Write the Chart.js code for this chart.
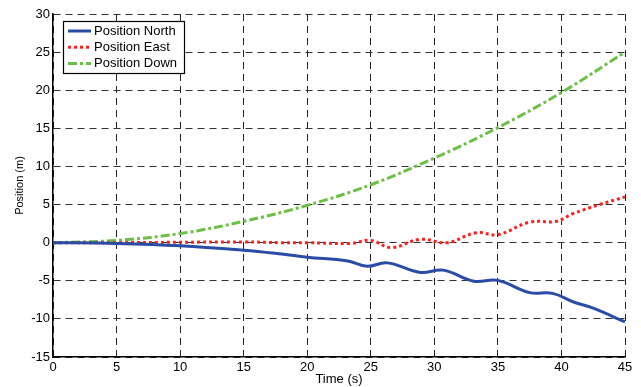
<!DOCTYPE html>
<html>
<head>
<meta charset="utf-8">
<script src="https://cdn.jsdelivr.net/npm/chart.js"></script>
<style>
  html, body { margin: 0; padding: 0; background: #fff; }
  #wrap { width: 641px; height: 387px; position: relative; }
</style>
</head>
<body>
<div id="wrap"><canvas id="chart"></canvas></div>
<script>
// values (time in s, position in m)
const northTime = [0, 5, 10, 15, 18, 20, 23.2, 24.7, 26.3, 28.9, 30.7, 33.1, 35, 37.5, 39.3, 40.9, 42.5, 45];
const northPos  = [0, -0.1, -0.4, -1.0, -1.5, -1.9, -2.4, -3.1, -2.65, -3.9, -3.6, -5.05, -4.95, -6.55, -6.65, -7.75, -8.6, -10.4];

const eastTime = [0, 5, 10, 15, 18, 20, 23.4, 25, 26.6, 28.9, 31, 33.3, 35, 37.5, 39.6, 40.9, 43, 45];
const eastPos  = [0, 0, 0.05, 0.1, 0, 0, -0.1, 0.3, -0.65, 0.45, 0, 1.3, 1.05, 2.7, 2.8, 3.8, 5.0, 6.0];

const downTime = [0, 5, 10, 15, 20, 25, 30, 35, 40, 45];
const downPos  = [0, 0.3, 1.2, 2.8, 4.9, 7.6, 11.1, 15.1, 19.7, 25];

const seriesLabels = ['Position North', 'Position East', 'Position Down'];
const xTicks = [0, 5, 10, 15, 20, 25, 30, 35, 40, 45];
const yTicks = [-15, -10, -5, 0, 5, 10, 15, 20, 25, 30];

const FONT = "'Liberation Sans', Arial, sans-serif";

function pts(t, v) { return t.map((x, i) => ({ x: x, y: v[i] })); }

// legend drawn inside the plot, top-left, MATLAB style
const boxLegend = {
  id: 'boxLegend',
  afterDatasetsDraw(chart) {
    const ctx = chart.ctx;
    const x0 = 63, y0 = 21, w = 121, h = 52;
    ctx.save();
    ctx.fillStyle = '#fff';
    ctx.fillRect(x0, y0, w, h);
    ctx.lineWidth = 1.2;
    ctx.strokeStyle = '#000';
    ctx.setLineDash([]);
    ctx.strokeRect(x0 + 0.5, y0 + 0.5, w, h);
    ctx.font = '13px ' + FONT;
    ctx.textBaseline = 'middle';
    chart.data.datasets.forEach((ds, i) => {
      const cy = y0 + 10 + i * 16.2;
      ctx.beginPath();
      ctx.strokeStyle = ds.borderColor;
      ctx.lineWidth = ds.borderWidth;
      ctx.setLineDash(ds.borderDash || []);
      ctx.moveTo(68, cy);
      ctx.lineTo(91, cy);
      ctx.stroke();
      ctx.fillStyle = '#000';
      ctx.fillText(ds.label, 94, cy + 0.5);
    });
    ctx.restore();
  }
};

new Chart(document.getElementById('chart'), {
  type: 'line',
  data: {
    datasets: [
      {
        label: seriesLabels[0],
        data: pts(northTime, northPos),
        borderColor: '#2b4ca6',
        borderWidth: 3,
        tension: 0.4
      },
      {
        label: seriesLabels[1],
        data: pts(eastTime, eastPos),
        borderColor: '#ff1f1f',
        borderWidth: 3,
        borderDash: [3, 3],
        tension: 0.4
      },
      {
        label: seriesLabels[2],
        data: pts(downTime, downPos),
        borderColor: '#6cbf47',
        borderWidth: 3,
        borderDash: [9, 3, 3, 3],
        tension: 0.4
      }
    ]
  },
  options: {
    responsive: true,
    maintainAspectRatio: false,
    animation: false,
    elements: { point: { radius: 0 } },
    layout: { padding: { left: 0, top: 14, right: 16, bottom: 0 } },
    plugins: {
      legend: { display: false },
      tooltip: { enabled: false }
    },
    scales: {
      x: {
        type: 'linear',
        min: 0,
        max: 45,
        afterBuildTicks: s => { s.ticks = xTicks.map(v => ({ value: v })); },
        afterFit: s => { s.height = 30; },
        grid: { color: '#222', lineWidth: 1, drawTicks: false },
        border: { display: true, color: '#000', width: 1.5, dash: [7, 5] },
        ticks: { color: '#000', font: { family: FONT, size: 13 }, padding: 3, maxRotation: 0 },
        title: { display: true, text: 'Time (s)', color: '#000', font: { family: FONT, size: 13 }, padding: { top: -4, bottom: 0 } }
      },
      y: {
        min: -15,
        max: 30,
        afterBuildTicks: s => { s.ticks = yTicks.map(v => ({ value: v })); },
        afterFit: s => { s.width = 53; },
        grid: { color: '#333', lineWidth: 1, drawTicks: false },
        border: { display: true, color: '#000', width: 1.5, dash: [7, 5] },
        ticks: { color: '#000', font: { family: FONT, size: 13 }, padding: 3 },
        title: { display: true, text: 'Position (m)', color: '#000', font: { family: FONT, size: 11 }, padding: { top: 13, bottom: 0 } }
      }
    }
  },
  plugins: [boxLegend]
});
</script>
</body>
</html>
